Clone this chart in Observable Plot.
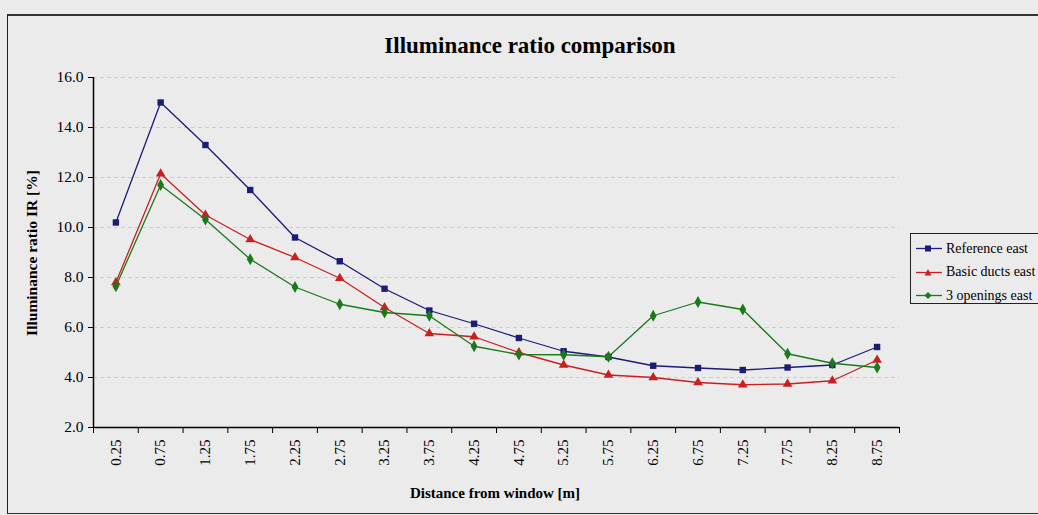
<!DOCTYPE html>
<html><head><meta charset="utf-8">
<script src="https://cdn.jsdelivr.net/npm/d3@7"></script>
<script src="https://cdn.jsdelivr.net/npm/@observablehq/plot@0.6"></script>
<style>
html,body{margin:0;padding:0;background:#ebebeb;overflow:hidden;width:1038px;height:515px}
#wrap{position:relative;width:1038px;height:515px;overflow:hidden}
#frame{position:absolute;left:7px;top:14px;width:1060px;height:497px;border-left:1.5px solid #222;border-top:2px solid #333;border-bottom:1.5px solid #333}
#chart{position:absolute;left:0;top:0}
.lbl{position:absolute;white-space:nowrap;font-family:"Liberation Serif",serif;font-weight:bold;color:#000;transform:translate(-50%,-50%)}
#title{left:530px;top:46px;font-size:23px}
#ylab{left:32px;top:253px;font-size:15.5px;transform:translate(-50%,-50%) rotate(-90deg)}
#xlab{left:495px;top:493px;font-size:15px}
#legend{position:absolute;left:910px;top:233px;width:160px;height:71px;border:1px solid #222;font:14px "Liberation Serif",serif;color:#000;box-sizing:border-box;padding-top:3px}
.item{display:flex;align-items:center;height:23.5px;padding-left:5px}
.item svg{margin-right:4px}
</style>
</head><body>
<div id="wrap">
  <div id="frame"></div>
  <div id="chart"></div>
  <div class="lbl" id="title">Illuminance ratio comparison</div>
  <div class="lbl" id="ylab">Illuminance ratio IR [%]</div>
  <div class="lbl" id="xlab">Distance from window [m]</div>
  <div id="legend"></div>
</div>
<script>
const distances = [0.25,0.75,1.25,1.75,2.25,2.75,3.25,3.75,4.25,4.75,5.25,5.75,6.25,6.75,7.25,7.75,8.25,8.75];
const seriesNames = ["Reference east","Basic ducts east","3 openings east"];
const referenceEast = [10.2,15.0,13.3,11.5,9.6,8.65,7.55,6.68,6.15,5.58,5.05,4.82,4.47,4.38,4.3,4.4,4.5,5.22];
const basicDuctsEast = [7.8,12.15,10.5,9.52,8.8,7.97,6.8,5.76,5.63,5.0,4.5,4.1,4.0,3.8,3.71,3.74,3.87,4.7];
const openingsEast = [7.65,11.7,10.32,8.73,7.62,6.93,6.6,6.47,5.25,4.92,4.91,4.83,6.47,7.02,6.72,4.95,4.57,4.4];
const seriesColors = ["#1b1b78","#c82020","#1a7a1a"];
const seriesSymbols = ["square","triangle","diamond"];
const yTicks = [2,4,6,8,10,12,14,16];
const xBoundaries = [0,0.5,1,1.5,2,2.5,3,3.5,4,4.5,5,5.5,6,6.5,7,7.5,8,8.5,9];

const table = [];
[referenceEast, basicDuctsEast, openingsEast].forEach((vals, i) =>
  vals.forEach((v, j) => table.push({series: seriesNames[i], distance: distances[j], value: v})));

const chart = Plot.plot({
  width: 1038, height: 515,
  marginLeft: 93, marginRight: 139, marginTop: 77, marginBottom: 88,
  style: {background: "transparent", fontFamily: "Liberation Serif", fontSize: "15px", color: "#000"},
  x: {domain: [0, 9], axis: null},
  y: {domain: [2, 16], axis: null},
  color: {domain: seriesNames, range: seriesColors},
  symbol: {domain: seriesNames, range: seriesSymbols},
  marks: [
    Plot.ruleY(yTicks.slice(1), {stroke: "#d2d2a6", strokeDasharray: "4,3", strokeWidth: 1}),
    Plot.axisY({ticks: yTicks, tickFormat: d => d.toFixed(1), tickSize: 5, tickPadding: 5, fontSize: 15.5, label: null, stroke: "#000"}),
    Plot.axisX({ticks: xBoundaries, tickSize: 6, tickFormat: () => "", label: null, stroke: "#000"}),
    Plot.axisX({ticks: distances, tickSize: 0, tickPadding: 12, tickRotate: -90, tickFormat: d => d.toFixed(2), fontSize: 15, label: null}),
    Plot.ruleX([0], {stroke: "#000", strokeWidth: 1.5}),
    Plot.ruleY([2], {stroke: "#000", strokeWidth: 1.5}),
    Plot.line(table, {x: "distance", y: "value", stroke: "series", strokeWidth: 1.3}),
    Plot.dot(table, {x: "distance", y: "value", fill: "series", symbol: "series", r: 3.6, stroke: "none"})
  ]
});
document.getElementById("chart").appendChild(chart);

const legend = document.getElementById("legend");
const symPaths = {
  square: "M9,1.5h6v6h-6z",
  triangle: "M12,1L15.5,7.5H8.5z",
  diamond: "M12,1L15.5,4.5L12,8L8.5,4.5z"
};
seriesNames.forEach((name, i) => {
  const div = document.createElement("div");
  div.className = "item";
  div.innerHTML = `<svg width="26" height="9"><line x1="0" x2="26" y1="4.5" y2="4.5" stroke="${seriesColors[i]}" stroke-width="1.3"/><path d="${symPaths[seriesSymbols[i]]}" fill="${seriesColors[i]}"/></svg><span>${name}</span>`;
  legend.appendChild(div);
});
</script>
</body></html>
